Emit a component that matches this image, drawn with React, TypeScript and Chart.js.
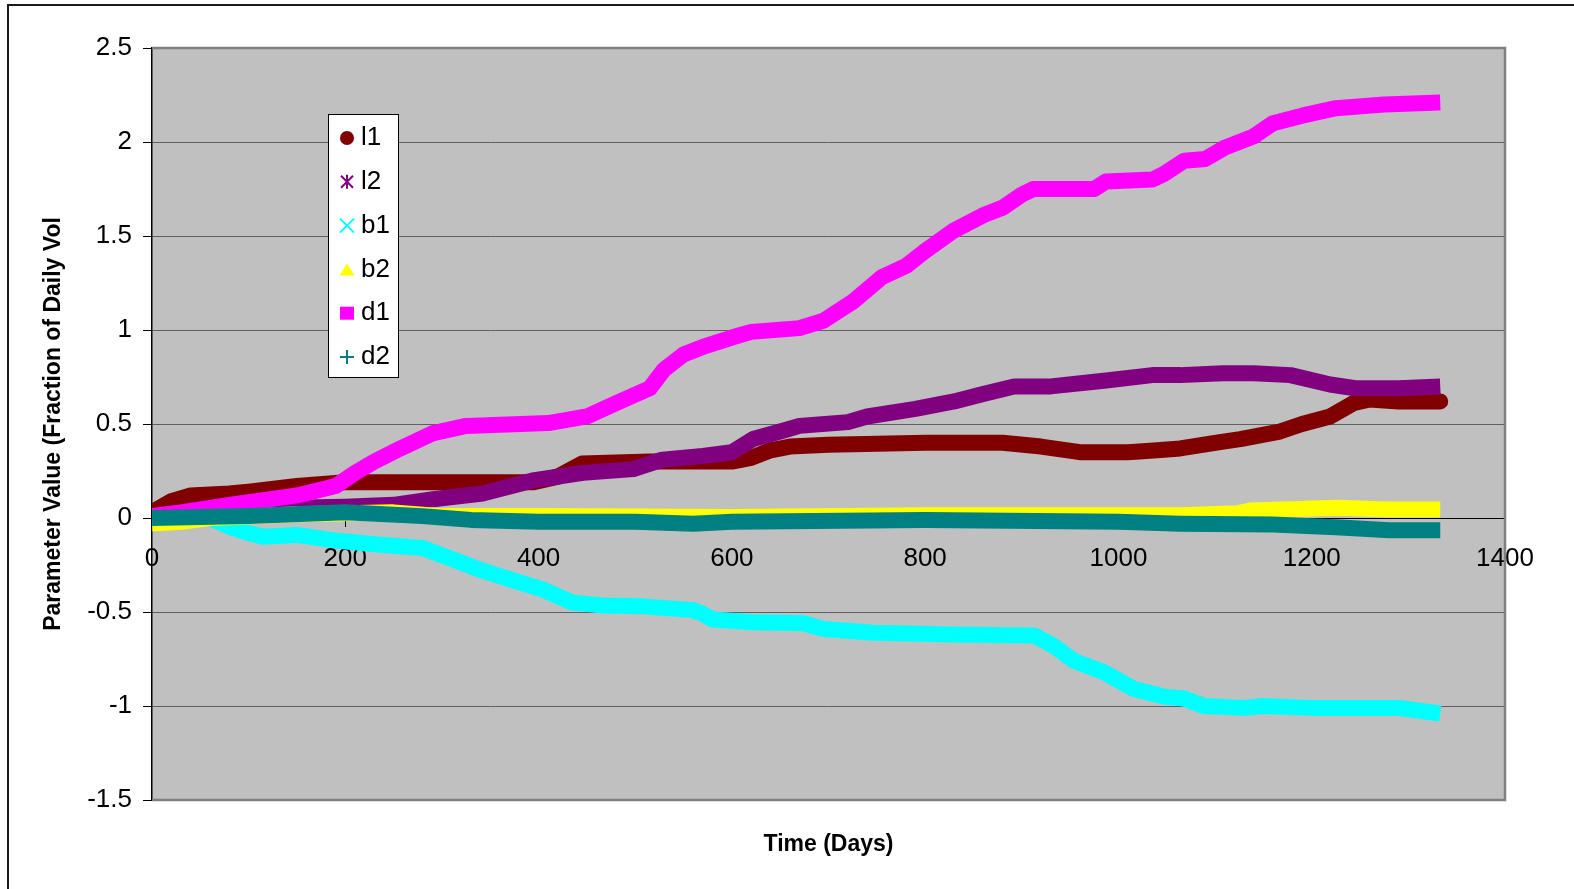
import React, { useEffect, useRef } from 'react';
import { Chart, registerables } from 'chart.js';

Chart.register(...registerables);

const FONT = '"Liberation Sans", Arial, Helvetica, sans-serif';

const SERIES_NAMES = ['l1', 'l2', 'b1', 'b2', 'd1', 'd2'];
const SERIES_COLORS = ['#800000', '#800080', '#00FFFF', '#FFFF00', '#FF00FF', '#008080'];
const SERIES_MARKERS = ['circle', 'star', 'crossRot', 'triangle', 'rect', 'cross'];

const L1_DAYS = [0, 20, 40, 80, 100, 150, 200, 250, 350, 395, 420, 445, 515, 600, 620, 640, 660, 700, 800, 880, 920, 960, 1010, 1040, 1064, 1100, 1126, 1167, 1190, 1219, 1243, 1260, 1290, 1333];
const L1_VALUES = [0.03, 0.09, 0.12, 0.13, 0.14, 0.17, 0.19, 0.19, 0.19, 0.19, 0.22, 0.29, 0.3, 0.3, 0.32, 0.36, 0.38, 0.39, 0.4, 0.4, 0.38, 0.35, 0.35, 0.36, 0.37, 0.4, 0.42, 0.46, 0.5, 0.54, 0.61, 0.63, 0.62, 0.62];

const L2_DAYS = [0, 50, 100, 200, 250, 291, 342, 394, 446, 498, 528, 570, 600, 622, 650, 670, 720, 740, 790, 830, 860, 892, 930, 985, 1035, 1064, 1108, 1140, 1178, 1219, 1245, 1290, 1333];
const L2_VALUES = [0.0, 0.03, 0.05, 0.06, 0.07, 0.1, 0.13, 0.2, 0.24, 0.26, 0.31, 0.33, 0.35, 0.42, 0.46, 0.49, 0.51, 0.54, 0.58, 0.62, 0.66, 0.7, 0.7, 0.73, 0.76, 0.76, 0.77, 0.77, 0.76, 0.71, 0.69, 0.69, 0.7];

const B1_DAYS = [0, 60, 82, 100, 115, 150, 190, 230, 280, 311, 342, 373, 404, 435, 467, 508, 560, 570, 580, 622, 674, 695, 747, 830, 913, 933, 954, 985, 1016, 1047, 1068, 1088, 1130, 1150, 1200, 1290, 1333];
const B1_VALUES = [0.0, 0.0, -0.05, -0.08, -0.1, -0.09, -0.12, -0.14, -0.16, -0.22, -0.28, -0.33, -0.38, -0.45, -0.465, -0.47, -0.49, -0.51, -0.54, -0.555, -0.56, -0.59, -0.61, -0.62, -0.625, -0.68, -0.76, -0.82, -0.91, -0.95, -0.96, -1.0, -1.01, -1.0, -1.01, -1.01, -1.04];

const B2_DAYS = [0, 30, 60, 150, 250, 300, 400, 600, 800, 1000, 1064, 1123, 1136, 1226, 1281, 1333];
const B2_VALUES = [-0.03, -0.02, 0.0, 0.02, 0.03, 0.01, 0.01, 0.005, 0.015, 0.015, 0.015, 0.025, 0.04, 0.055, 0.045, 0.045];

const D1_DAYS = [0, 30, 80, 150, 190, 210, 230, 257, 290, 325, 410, 450, 480, 515, 530, 550, 570, 600, 620, 670, 695, 725, 755, 780, 800, 830, 860, 880, 900, 912, 975, 987, 1035, 1047, 1068, 1090, 1110, 1140, 1160, 1190, 1225, 1275, 1333];
const D1_VALUES = [0.01, 0.03, 0.07, 0.12, 0.17, 0.24, 0.3, 0.37, 0.45, 0.49, 0.505, 0.54, 0.61, 0.69, 0.79, 0.87, 0.91, 0.96, 0.99, 1.01, 1.05, 1.15, 1.28, 1.34, 1.42, 1.53, 1.61, 1.65, 1.72, 1.75, 1.75, 1.79, 1.8, 1.83, 1.9, 1.91, 1.97, 2.03, 2.1, 2.14, 2.18, 2.2, 2.21];

const D2_DAYS = [0, 100, 200, 280, 330, 400, 500, 560, 600, 800, 1000, 1064, 1160, 1230, 1280, 1333];
const D2_VALUES = [0.0, 0.01, 0.03, 0.01, -0.01, -0.02, -0.02, -0.03, -0.02, -0.01, -0.02, -0.03, -0.035, -0.05, -0.065, -0.065];

const SERIES_DAYS = [L1_DAYS, L2_DAYS, B1_DAYS, B2_DAYS, D1_DAYS, D2_DAYS];
const SERIES_VALUES = [L1_VALUES, L2_VALUES, B1_VALUES, B2_VALUES, D1_VALUES, D2_VALUES];

const X_TICKS = [0, 200, 400, 600, 800, 1000, 1200, 1400];
const Y_TICKS = [-1.5, -1, -0.5, 0, 0.5, 1, 1.5, 2, 2.5];
const X_TITLE = 'Time (Days)';
const Y_TITLE = 'Parameter Value (Fraction of Daily Vol';

function drawMarker(ctx: CanvasRenderingContext2D, style: string, x: number, y: number, color: string) {
  ctx.save();
  ctx.fillStyle = color;
  ctx.strokeStyle = color;
  ctx.lineWidth = 2;
  ctx.beginPath();
  if (style === 'circle') {
    ctx.arc(x, y, 7, 0, Math.PI * 2);
    ctx.fill();
  } else if (style === 'rect') {
    ctx.fillRect(x - 7, y - 6.5, 14, 13);
  } else if (style === 'triangle') {
    ctx.moveTo(x, y - 6);
    ctx.lineTo(x + 7.5, y + 6);
    ctx.lineTo(x - 7.5, y + 6);
    ctx.closePath();
    ctx.fill();
  } else if (style === 'crossRot') {
    ctx.moveTo(x - 7, y - 7);
    ctx.lineTo(x + 7, y + 7);
    ctx.moveTo(x + 7, y - 7);
    ctx.lineTo(x - 7, y + 7);
    ctx.stroke();
  } else if (style === 'cross') {
    ctx.moveTo(x - 7, y);
    ctx.lineTo(x + 7, y);
    ctx.moveTo(x, y - 7);
    ctx.lineTo(x, y + 7);
    ctx.stroke();
  } else if (style === 'star') {
    ctx.moveTo(x - 6, y - 6);
    ctx.lineTo(x + 6, y + 6);
    ctx.moveTo(x + 6, y - 6);
    ctx.lineTo(x - 6, y + 6);
    ctx.moveTo(x, y - 7);
    ctx.lineTo(x, y + 7);
    ctx.stroke();
  }
  ctx.restore();
}

const framePlugin = {
  id: 'frame',
  beforeDraw(chart: any) {
    const { ctx, chartArea } = chart;
    ctx.save();
    ctx.fillStyle = '#ffffff';
    ctx.fillRect(0, 0, chart.width, chart.height);
    ctx.strokeStyle = '#1a1a1a';
    ctx.lineWidth = 2;
    ctx.beginPath();
    ctx.moveTo(8, chart.height + 2);
    ctx.lineTo(8, 5);
    ctx.lineTo(chart.width + 2, 5);
    ctx.stroke();
    ctx.fillStyle = '#C0C0C0';
    ctx.fillRect(chartArea.left, chartArea.top, chartArea.right - chartArea.left, chartArea.bottom - chartArea.top);
    ctx.restore();
  },
  beforeDatasetsDraw(chart: any) {
    const { ctx, chartArea } = chart;
    ctx.save();
    ctx.strokeStyle = '#808080';
    ctx.lineWidth = 2.5;
    ctx.beginPath();
    ctx.moveTo(chartArea.left, chartArea.top);
    ctx.lineTo(chartArea.right, chartArea.top);
    ctx.lineTo(chartArea.right, chartArea.bottom);
    ctx.lineTo(chartArea.left, chartArea.bottom);
    ctx.stroke();
    ctx.restore();
  },
  afterDraw(chart: any) {
    const { ctx } = chart;
    ctx.save();
    const bx = 328.5, by = 114.5, bw = 70, bh = 263;
    ctx.fillStyle = '#ffffff';
    ctx.fillRect(bx, by, bw, bh);
    ctx.strokeStyle = '#000000';
    ctx.lineWidth = 1;
    ctx.strokeRect(bx, by, bw, bh);
    ctx.font = `26px ${FONT}`;
    ctx.textBaseline = 'middle';
    ctx.textAlign = 'left';
    SERIES_NAMES.forEach((name, i) => {
      const y = 138 + i * 43.8;
      drawMarker(ctx, SERIES_MARKERS[i], 347, y, SERIES_COLORS[i]);
      ctx.fillStyle = '#000000';
      ctx.fillText(name, 361, y);
    });
    ctx.restore();
  },
};

export default function App() {
  const canvasRef = useRef<HTMLCanvasElement | null>(null);

  useEffect(() => {
    document.body.style.margin = '0';
    const canvas = canvasRef.current;
    if (!canvas) return;
    const datasets = SERIES_NAMES.map((name, i) => ({
      label: name,
      data: SERIES_DAYS[i].map((d, j) => ({ x: d, y: SERIES_VALUES[i][j] })),
      borderColor: SERIES_COLORS[i],
      backgroundColor: SERIES_COLORS[i],
      borderWidth: 16,
      pointRadius: 0,
      showLine: true,
      tension: 0,
      fill: false,
      borderJoinStyle: 'round',
      borderCapStyle: i === 0 ? 'round' : 'butt',
      order: SERIES_NAMES.length - i,
    }));

    const chart = new Chart(canvas, {
      type: 'scatter',
      data: { datasets } as any,
      plugins: [framePlugin],
      options: {
        animation: false,
        responsive: false,
        devicePixelRatio: 1,
        events: [],
        layout: { padding: { left: 0, top: 48, right: 69, bottom: 0 } },
        plugins: {
          legend: { display: false },
          tooltip: { enabled: false },
        },
        scales: {
          x: {
            type: 'linear',
            position: { y: 0 } as any,
            min: 0,
            max: 1400,
            afterBuildTicks: (scale: any) => {
              scale.ticks = X_TICKS.map((v) => ({ value: v }));
            },
            ticks: {
              callback: (v: any) => String(v),
              font: { family: FONT, size: 26 },
              color: '#000000',
              padding: 17,
              maxRotation: 0,
              autoSkip: false,
            },
            grid: {
              drawOnChartArea: false,
              drawTicks: true,
              tickLength: 8,
              tickColor: '#000000',
              color: '#000000',
            },
            border: { display: true, color: '#000000', width: 1 },
          },
          x2: {
            type: 'linear',
            axis: 'x',
            position: 'bottom',
            min: 0,
            max: 1400,
            ticks: { display: false },
            grid: { display: false },
            border: { display: false },
            title: {
              display: true,
              text: X_TITLE,
              color: '#000000',
              font: { family: FONT, size: 23, weight: 'bold' },
              padding: { top: 0, bottom: 31 },
            },
            afterFit: (scale: any) => {
              scale.height = 89;
            },
          } as any,
          y: {
            type: 'linear',
            position: 'left',
            min: -1.5,
            max: 2.5,
            afterBuildTicks: (scale: any) => {
              scale.ticks = Y_TICKS.map((v) => ({ value: v }));
            },
            afterFit: (scale: any) => {
              scale.width = 152;
            },
            ticks: {
              callback: (v: any) => String(v),
              font: { family: FONT, size: 26 },
              color: '#000000',
              padding: 11,
            },
            grid: {
              color: (ctx: any) => (ctx.tick && ctx.tick.value === 0 ? '#000000' : '#606060'),
              tickColor: '#000000',
              tickLength: 9,
              lineWidth: 1,
            },
            border: { display: true, color: '#000000', width: 1.5 },
            title: {
              display: true,
              text: Y_TITLE,
              color: '#000000',
              font: { family: FONT, size: 23, weight: 'bold' },
              padding: { top: 40, bottom: 0 },
            },
          },
        },
      } as any,
    });
    return () => {
      chart.destroy();
    };
  }, []);

  return (
    <div style={{ position: 'absolute', left: 0, top: 0, width: 1574, height: 889 }}>
      <canvas ref={canvasRef} width={1574} height={889} style={{ display: 'block', width: 1574, height: 889 }} />
    </div>
  );
}
